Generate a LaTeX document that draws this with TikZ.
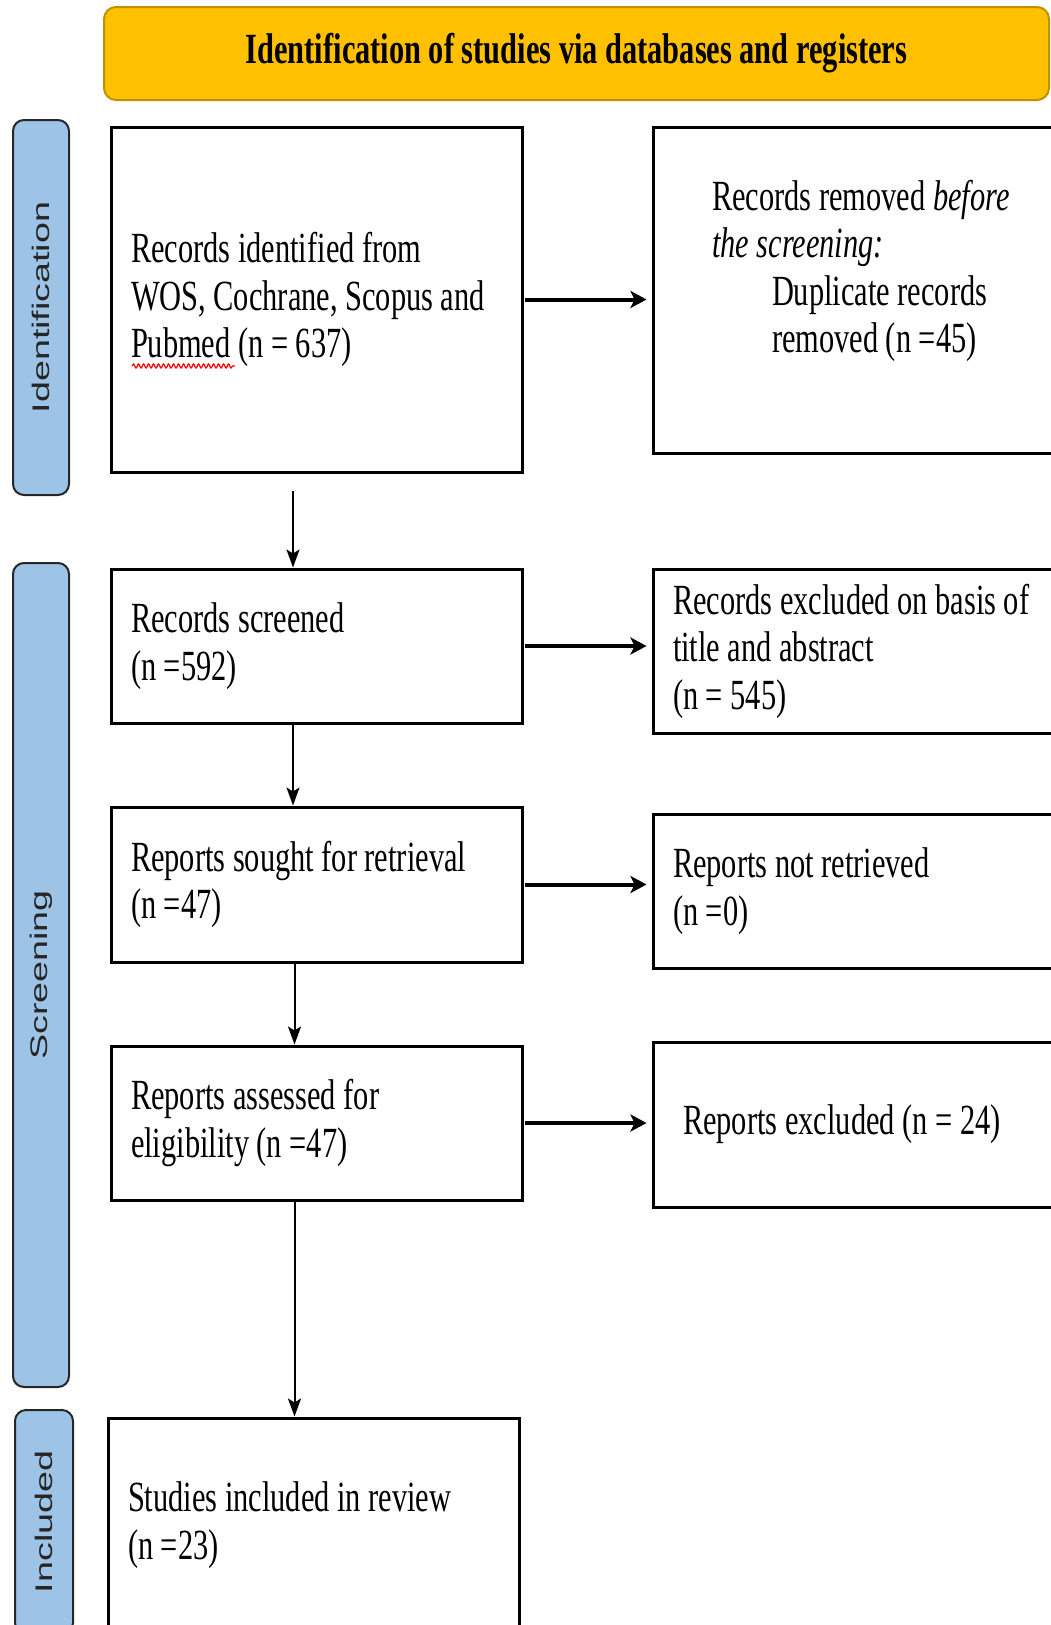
\documentclass[tikz,border=0pt]{standalone}
\usepackage{fontspec}
\setmainfont{Liberation Serif}[FakeStretch=0.707]
\newfontfamily\lanefont{Liberation Sans}[FakeStretch=1.57]
\usetikzlibrary{arrows.meta,decorations.pathmorphing}
\definecolor{headgold}{HTML}{FFC000}
\definecolor{headedge}{HTML}{BF9000}
\definecolor{laneblue}{HTML}{9DC3E6}

\begin{document}
\begin{tikzpicture}[
        x=1pt, y=-1pt,
        node distance=238.5pt,
        box/.style={rectangle, draw, line width=3pt, text width=371pt, inner xsep=20pt, align=flush left, font=\fontsize{43pt}{47.5pt}\selectfont},
        sidebox/.style={box, text width=382pt},
        head/.style={rectangle, draw=headedge, line width=2pt, fill=headgold, rounded corners=12pt, minimum width=945pt, minimum height=93pt, font=\fontsize{43pt}{47.5pt}\selectfont\bfseries},
        lane/.style={rectangle, draw=black!85, line width=2pt, fill=laneblue, rounded corners=11pt, rotate=90, minimum height=56pt, text=black!85, font=\lanefont\fontsize{24pt}{28pt}\selectfont},
        arrow/.style={->, >={Stealth[length=18pt, width=13pt, inset=4pt]}, line width=2pt},
        harrow/.style={->, >={Stealth[length=16pt, width=17pt, inset=4pt]}, line width=4pt, shorten <=1pt, shorten >=5pt}
    ]
        \useasboundingbox (0,0) rectangle (1051,1625);

        \node[head] (title) at (576.5,53.5) {Identification of studies via databases and registers};

        \node[lane, minimum width=375pt] (idlane) at (41,307.5) {Identification};
        \node[lane, minimum width=824pt] (scrlane) at (41,975) {Screening};
        \node[lane, minimum width=224pt, minimum height=58pt] (inclane) at (44,1522) {Included};

        \node[box, minimum height=345pt] (ident) at (316.5,299.5) {Records identified from\\WOS, Cochrane, Scopus and\\Pubmed (n = 637)};
        \node[sidebox, minimum height=326pt, right of=ident, xshift=309pt, yshift=9.5pt] (removed) {\hspace*{39pt}Records removed \textit{before}\\\hspace*{39pt}\textit{the screening:}\\\hspace*{99pt}Duplicate records\\\hspace*{99pt}removed (n =45)\\~};
        \node[box, minimum height=154pt, below of=ident, yshift=-108pt] (screen) {Records screened\\(n =592)};
        \node[sidebox, minimum height=164pt, right of=screen, xshift=309pt, yshift=-5pt] (excl) {Records excluded on basis of\\title and abstract\\(n = 545)};
        \node[box, minimum height=155pt, below of=screen] (sought) {Reports sought for retrieval\\(n =47)};
        \node[sidebox, minimum height=154pt, right of=sought, xshift=309pt, yshift=-6.5pt] (notret) {Reports not retrieved\\(n =0)};
        \node[box, minimum height=154pt, below of=sought] (assess) {Reports assessed for\\eligibility (n =47)};
        \node[sidebox, minimum height=165pt, right of=assess, xshift=309pt, yshift=-1.5pt] (repexcl) {\hspace*{10pt}Reports excluded (n = 24)};
        \node[box, minimum height=214pt, below of=assess, xshift=-3pt, yshift=-163.5pt] (incl) {Studies included in review\\(n =23)};

        \draw[red, line width=1.2pt, decorate, decoration={snake, segment length=5pt, amplitude=2pt}] (132,366) -- (235,366);

        \draw[harrow] (ident.east) -- (ident.east -| removed.west);
        \draw[harrow] (screen.east) -- (screen.east -| excl.west);
        \draw[harrow] (sought.east) -- (sought.east -| notret.west);
        \draw[harrow] (assess.east) -- (assess.east -| repexcl.west);

        \draw[arrow] ([xshift=-23.5pt, yshift=-17pt]ident.south) -- ([xshift=-23.5pt]screen.north);
        \draw[arrow] ([xshift=-23.5pt]screen.south) -- ([xshift=-23.5pt]sought.north);
        \draw[arrow] ([xshift=-22pt]sought.south) -- ([xshift=-22pt]assess.north);
        \draw[arrow] ([xshift=-22pt]assess.south) -- ([xshift=-22pt]assess.south |- incl.north);
    \end{tikzpicture}
\end{document}
